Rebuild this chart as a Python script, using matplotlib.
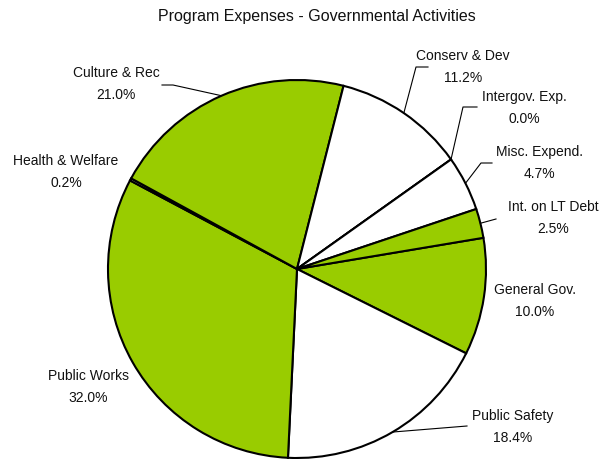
import numpy as np
import matplotlib.pyplot as plt

plt.rcParams['font.family'] = ['Liberation Sans', 'DejaVu Sans']

# expense categories in drawing order (clockwise)
categories = ['General Gov.', 'Public Safety', 'Public Works', 'Health & Welfare',
              'Culture & Rec', 'Conserv & Dev', 'Intergov. Exp.', 'Misc. Expend.',
              'Int. on LT Debt']
shares = [10.0, 18.4, 32.0, 0.2, 21.0, 11.2, 0.0, 4.7, 2.5]
colors = ['#99CC00', 'white', '#99CC00', 'white', '#99CC00',
          'white', '#99CC00', 'white', '#99CC00']

W, H = 600, 459
cx, cy, R = 297, 269, 189

# label centre (x, y of the name line), pixel coords from top-left
label_pos = [(535, 290), (513, 416), (88, 376), (66, 161), (116, 73),
             (463, 56), (524, 97), (539, 152), (553, 207)]
# leader line: elbow and end point, or None
leaders = [None, [(467, 426)], None, None, [(173, 85), (162, 85)],
           [(416, 67), (428, 67)], [(463, 107), (477, 107)],
           [(481, 163), (492, 163)], [(496, 219)]]


def fy(y):
    return H - y


fig = plt.figure(figsize=(6, 4.59), dpi=100)
ax = fig.add_axes([0, 0, 1, 1])
ax.set_xlim(0, W)
ax.set_ylim(0, H)
ax.set_aspect('equal')
ax.axis('off')

wedges, _ = ax.pie(shares, colors=colors, startangle=9.5, counterclock=False,
                   center=(cx, fy(cy)), radius=R,
                   wedgeprops=dict(edgecolor='black', linewidth=1.5))
ax.set_xlim(0, W)
ax.set_ylim(0, H)

for w, name, val, (lx, ly), lead in zip(wedges, categories, shares, label_pos, leaders):
    ax.text(lx, fy(ly), name, ha='center', va='center', fontsize=10, color='#111111')
    ax.text(lx, fy(ly + 22), f'{val:.1f}%', ha='center', va='center', fontsize=10,
            color='#111111')
    if lead:
        mid = np.deg2rad((w.theta1 + w.theta2) / 2)
        xs = [cx + R * np.cos(mid)] + [p[0] for p in lead]
        ys = [fy(cy) + R * np.sin(mid)] + [fy(p[1]) for p in lead]
        ax.plot(xs, ys, color='black', linewidth=0.8)

ax.text(W / 2 + 17, fy(16), 'Program Expenses - Governmental Activities',
        ha='center', va='center', fontsize=11.5, color='#111111')

fig.savefig('out.png', dpi=100)
